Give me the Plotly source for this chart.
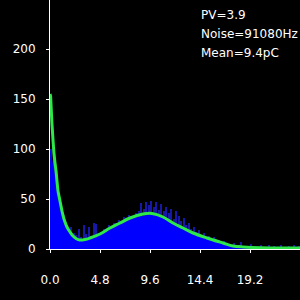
import plotly.graph_objects as go

# Fit curve (green)
fit_x = [0.0, 0.05, 0.1, 0.19, 0.29, 0.38, 0.48, 0.58, 0.67, 0.77, 0.96, 1.15, 1.34, 1.63, 1.92,
         2.21, 2.5, 2.88, 3.36, 3.84, 4.8, 5.76, 6.72, 7.68, 8.93, 9.79, 10.85, 11.81, 12.77,
         13.73, 15.07, 16.61, 17.57, 18.53, 20.16, 24.0]
fit_y = [155, 153, 144, 125, 109, 96, 86, 78, 68, 58, 48, 38, 30, 22, 17,
         13, 10.5, 9, 9.5, 11, 15, 21, 26, 31, 35, 35.5, 32, 26, 21,
         16, 11, 6, 3, 2, 1.2, 1]

# Histogram body (bright blue fill)
fill_x = [0, 0.1, 0.2, 0.3, 0.4, 0.5, 0.6, 0.7, 0.8, 1.0, 1.2, 1.4, 1.7, 2.0, 2.3, 2.6, 3.0,
          3.5, 4.0, 4.8, 5.8, 6.7, 7.7, 8.9, 9.8, 10.9, 11.8, 12.8, 13.7, 15.1, 16.6, 17.6,
          18.5, 20.2, 24]
fill_y = [100, 96, 90, 84, 77, 70, 63, 56, 50, 42, 35, 28, 21, 16, 12, 10, 9,
          9.5, 10.5, 14, 20, 25, 30, 33, 34, 31, 25, 20, 15, 10, 5, 2.5,
          1.5, 1, 1]

# Raw histogram counts (dark blue spikes), bins of 0.24
spike_vals = [100, 88, 72, 55, 42, 34, 27, 20, 22, 16,
              14, 20, 12, 24, 15, 22, 13, 26, 25, 16,
              17, 20, 18, 24, 22, 26, 21, 29, 27,
              32, 30, 34, 33, 31, 36, 38, 46, 40,
              47, 44, 48, 42, 47, 39, 45, 38,
              42, 36, 40, 30, 38, 33, 28, 31,
              24, 26, 20, 22, 17, 19, 14, 16,
              12, 13, 10, 12, 8, 9, 7, 8, 5,
              5, 4, 6, 3, 4, 7, 3, 3,
              2, 5, 3, 1, 2, 4, 2, 1, 4, 2, 3, 1, 2, 4, 1, 2, 3, 1, 4, 2, 3]
spike_x = [0.12 + 0.24 * i for i in range(len(spike_vals))]

x_ticks = [0.0, 4.8, 9.6, 14.4, 19.2]
x_tick_text = ["0.0", "4.8", "9.6", "14.4", "19.2"]
y_ticks = [0, 50, 100, 150, 200]

labels = ["PV=3.9", "Noise=91080Hz", "Mean=9.4pC"]

fig = go.Figure()
fig.add_trace(go.Bar(x=spike_x, y=spike_vals, width=0.1,
                     marker=dict(color="#1818a8", line=dict(width=0)), hoverinfo="skip"))
fig.add_trace(go.Scatter(x=fill_x, y=fill_y, mode="lines", fill="tozeroy",
                         line=dict(width=0, color="#0000ff", shape="spline"),
                         fillcolor="#0000ff", hoverinfo="skip"))
fig.add_trace(go.Scatter(x=fit_x, y=fit_y, mode="lines",
                         line=dict(color="#2ee84a", width=3, shape="spline"), hoverinfo="skip"))

font = dict(family="DejaVu Sans", size=12, color="white")
fig.update_layout(
    width=300, height=300, margin=dict(l=50, r=0, t=0, b=51),
    paper_bgcolor="black", plot_bgcolor="black", showlegend=False, bargap=0,
    font=font,
    xaxis=dict(range=[0, 24], tickvals=x_ticks, ticktext=x_tick_text, showgrid=False,
               zeroline=False, showline=True, linecolor="white", linewidth=1,
               ticks="outside", ticklen=3, tickcolor="white", tickfont=font,
               ticklabelstandoff=17),
    yaxis=dict(range=[0, 249], tickvals=y_ticks, showgrid=False, zeroline=False,
               showline=True, linecolor="white", linewidth=1,
               ticks="outside", ticklen=3, tickcolor="white", tickfont=font,
               ticklabelstandoff=8),
)
for i, t in enumerate(labels):
    py = 15 + 19 * i
    fig.add_annotation(x=(199 - 50) / 250, y=(249 - py) / 249, xref="paper", yref="paper",
                       text=t, showarrow=False, xanchor="left", yanchor="middle", font=font)

fig.write_html("out.html")
